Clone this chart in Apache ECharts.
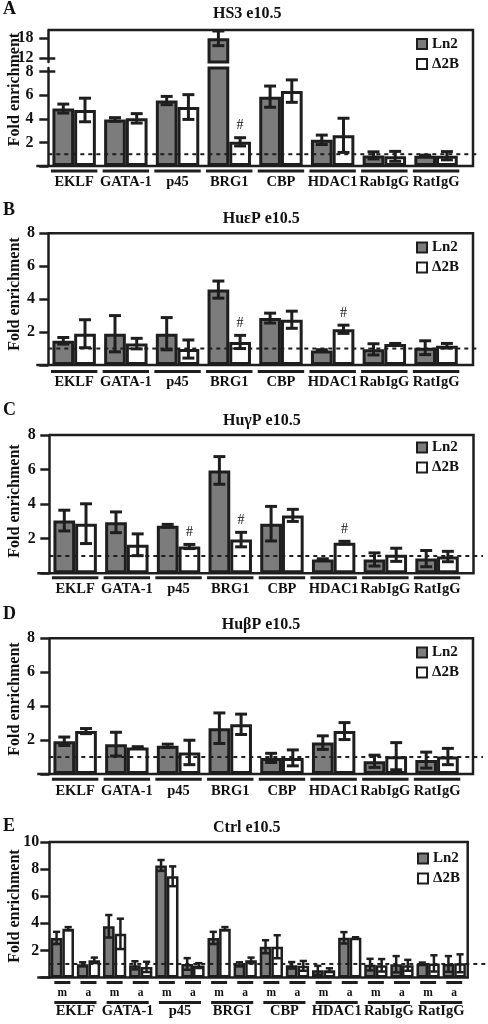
<!DOCTYPE html>
<html><head><meta charset="utf-8">
<script src="https://cdn.jsdelivr.net/npm/echarts@6/dist/echarts.min.js"></script>
<style>html,body{margin:0;padding:0;background:#fff}#c{width:488px;height:1024px}</style>
</head><body><div id="c"></div>
<script>
// ---------------- DATA ----------------
const categories = ['EKLF','GATA-1','p45','BRG1','CBP','HDAC1','RabIgG','RatIgG'];
const subLabels = ['m','a'];
const seriesNames = ['Ln2','Δ2B'];
const panelTitles = ['HS3 e10.5','HuεP e10.5','HuγP e10.5','HuβP e10.5','Ctrl e10.5'];
const panelLetters = ['A','B','C','D','E'];
const yName = 'Fold enrichment';
const yTicksAUpper = [12,18];
const yTicksALower = [2,4,6];
const yBreakLow = 8;
const yTicks8 = [2,4,6,8];
const yTicks10 = [2,4,6,8,10];
const refLevel = 1;

// A: HS3
const hs3Ln2     = [4.87, 3.95, 5.55, 18.0, 5.88, 2.22, 0.9, 0.87];
const hs3Ln2Err  = [0.38, 0.15, 0.35, 2.2, 0.9, 0.4, 0.3, 0.05];
const hs3D2B     = [4.75, 4.04, 5.0, 2.05, 6.35, 2.6, 0.82, 0.87];
const hs3D2BErr  = [1.0, 0.4, 1.05, 0.35, 0.95, 1.45, 0.42, 0.35];
const hs3Hash    = [0,0,0,1,0,0,0,0];
// B: HuεP
const epsLn2     = [1.47, 1.9, 1.9, 4.58, 2.85, 0.88, 0.95, 1.05];
const epsLn2Err  = [0.2, 1.1, 0.98, 0.52, 0.3, 0.05, 0.34, 0.42];
const epsD2B     = [1.9, 1.3, 0.97, 1.4, 2.75, 2.17, 1.27, 1.17];
const epsD2BErr  = [0.85, 0.32, 0.55, 0.4, 0.52, 0.25, 0.04, 0.14];
const epsHash    = [0,0,0,1,0,1,0,0];
// C: HuγP
const gamLn2     = [3.05, 2.95, 2.75, 5.95, 2.87, 0.8, 0.8, 0.85];
const gamLn2Err  = [0.6, 0.6, 0.08, 0.8, 1.0, 0.04, 0.38, 0.47];
const gamD2B     = [2.87, 1.65, 1.55, 1.95, 3.35, 1.77, 1.07, 0.97];
const gamD2BErr  = [1.15, 0.63, 0.12, 0.42, 0.35, 0.08, 0.38, 0.3];
const gamHash    = [0,0,1,1,0,1,0,0];
// D: HuβP
const betLn2     = [1.93, 1.76, 1.66, 2.7, 0.95, 1.85, 0.75, 0.82];
const betLn2Err  = [0.25, 0.7, 0.1, 0.9, 0.27, 0.4, 0.36, 0.47];
const betD2B     = [2.53, 1.56, 1.27, 2.93, 0.95, 2.53, 1.05, 1.03];
const betD2BErr  = [0.15, 0.05, 0.72, 0.6, 0.47, 0.5, 0.8, 0.48];
const betHash    = [0,0,0,0,0,0,0,0];
// E: Ctrl (order: EKLF m, EKLF a, GATA-1 m, GATA-1 a, ...)
const ctrlLn2    = [2.92, 0.97, 3.78, 0.9, 8.27, 1.0, 2.92, 0.97, 2.27, 0.9, 0.53, 2.93, 0.95, 0.98, 1.02, 1.0];
const ctrlLn2Err = [0.45, 0.15, 0.83, 0.3, 0.4, 0.43, 0.45, 0.15, 0.48, 0.24, 0.33, 0.42, 0.43, 0.6, 0.08, 0.58];
const ctrlD2B    = [3.6, 1.27, 3.22, 0.78, 7.47, 0.88, 3.6, 1.27, 2.27, 0.86, 0.54, 2.93, 0.9, 0.9, 1.04, 1.05];
const ctrlD2BErr = [0.12, 0.2, 1.12, 0.38, 0.73, 0.18, 0.12, 0.2, 0.85, 0.36, 0.14, 0.04, 0.46, 0.4, 0.6, 0.66];

// ---------------- STYLE ----------------
const FF = "'Liberation Serif','Times New Roman',Times,serif";
const INK = '#1e1e1e', FILL = '#7c7c7c', TXT = '#111';
const YFS = 16;

const grids = [], xAxis = [], yAxis = [], series = [], title = [], legend = [], graphic = [];

function addGrid(left, top, width, height) {
  grids.push({left, top, width, height, containLabel: false, outerBoundsMode: 'none'});
  return grids.length - 1;
}
function catAxis(gi, data, labelOpts) {
  xAxis.push({type: 'category', gridIndex: gi, data, position: 'bottom',
    axisLine: {show: false, onZero: false}, axisTick: {show: false}, splitLine: {show: false},
    axisLabel: labelOpts ? Object.assign({show: true, interval: 0, hideOverlap: false, color: TXT, fontFamily: FF, fontWeight: 'bold'}, labelOpts) : {show: false}});
  return xAxis.length - 1;
}
const yLabelStyle = {color: TXT, fontFamily: FF, fontWeight: 'bold', fontSize: YFS, lineHeight: 11};
function valAxis(gi, min, max, tickVals, labelVals, margin) {
  yAxis.push({type: 'value', gridIndex: gi, min, max, position: 'left',
    axisLine: {show: true, onZero: false, lineStyle: {color: INK, width: 2.5}},
    axisTick: {show: true, length: 9, customValues: tickVals, lineStyle: {color: INK, width: 2.5}},
    axisLabel: Object.assign({show: true, customValues: labelVals, margin, hideOverlap: false, showMinLabel: true, showMaxLabel: true}, yLabelStyle),
    splitLine: {show: false}});
  return yAxis.length - 1;
}
// break-mark axis: short tick crossing the axis line
function markAxis(gi, min, max, val, outer) {
  yAxis.push({type: 'value', gridIndex: gi, min, max, position: 'left',
    axisLine: {show: false}, splitLine: {show: false}, axisLabel: {show: false},
    axisTick: {show: true, inside: !outer, length: outer ? 9 : 7, customValues: [val], lineStyle: {color: INK, width: 2.5}}});
  return yAxis.length - 1;
}
function bars(xi, yi, ln2, d2b, gap, bw) {
  [ln2, d2b].forEach((arr, k) => {
    series.push({type: 'bar', name: seriesNames[k], xAxisIndex: xi, yAxisIndex: yi, data: arr,
      barGap: '0%', barCategoryGap: (gap * 100) + '%', z: 2, silent: true,
      itemStyle: {color: k === 0 ? FILL : '#fff', borderColor: INK, borderWidth: bw}});
  });
}
function errs(xi, yi, vals, errv, side, gap, lw, capFrac) {
  series.push({type: 'custom', name: 'err', xAxisIndex: xi, yAxisIndex: yi, z: 5, silent: true,
    data: vals.map((v, i) => [i, v, errv[i]]),
    renderItem(params, api) {
      const i = api.value(0), v = api.value(1), e = api.value(2);
      const cs = params.coordSys;
      const c = api.coord([i, v]);
      if (c[1] < cs.y - 0.5 || c[1] > cs.y + cs.height + 0.5) return null;
      const band = api.size([1, 0])[0];
      const bw = band * (1 - gap) / 2;
      const x = c[0] + side * bw / 2;
      const yT = api.coord([i, v + e])[1], yB = api.coord([i, Math.max(v - e, 0)])[1];
      const cap = bw * capFrac / 2;
      const st = {stroke: INK, lineWidth: lw};
      return {type: 'group', children: [
        {type: 'line', shape: {x1: x, y1: yT, x2: x, y2: yB}, style: st},
        {type: 'line', shape: {x1: x - cap, y1: yT, x2: x + cap, y2: yT}, style: st},
        {type: 'line', shape: {x1: x - cap, y1: yB, x2: x + cap, y2: yB}, style: st}
      ]};
    }});
}
function hashes(xi, yi, vals, errv, flags, gap) {
  const data = [];
  flags.forEach((f, i) => { if (f) data.push([i, vals[i], errv[i]]); });
  series.push({type: 'custom', name: 'hash', xAxisIndex: xi, yAxisIndex: yi, z: 6, silent: true, data,
    renderItem(params, api) {
      const i = api.value(0), v = api.value(1), e = api.value(2);
      const band = api.size([1, 0])[0];
      const bw = band * (1 - gap) / 2;
      const p = api.coord([i, v + e]);
      return {type: 'text', x: p[0] + bw / 2, y: p[1] - 12,
        style: {text: '#', fill: TXT, font: 'normal 14px ' + FF, align: 'center', verticalAlign: 'middle'}};
    }});
}
// text label placed through the axis scale (used for the break label of panel A)
function axisText(xi, yi, value, margin) {
  series.push({type: 'custom', name: 'brkLabel', xAxisIndex: xi, yAxisIndex: yi, z: 20, silent: true,
    data: [[0, value]],
    renderItem(params, api) {
      const y = api.coord([0, api.value(1)])[1];
      return {type: 'text', x: params.coordSys.x - margin, y,
        style: {text: String(api.value(1)), fill: TXT, font: 'bold ' + YFS + 'px ' + FF, align: 'right', verticalAlign: 'middle'}};
    }});
}
function underlines(xi, yi, n, halfFn, off, lw) {
  series.push({type: 'custom', name: 'uline', xAxisIndex: xi, yAxisIndex: yi, z: 6, silent: true,
    data: Array.from({length: n}, (_, i) => [i, 0]),
    renderItem(params, api) {
      const p = api.coord([api.value(0), 0]);
      const half = halfFn(api.size([1, 0])[0]);
      return {type: 'line', shape: {x1: p[0] - half, y1: p[1] + off, x2: p[0] + half, y2: p[1] + off},
        style: {stroke: INK, lineWidth: lw}};
    }});
}
function refLine(xi, yi, xEnd) {
  series.push({type: 'custom', name: 'ref', xAxisIndex: xi, yAxisIndex: yi, z: 8, silent: true,
    data: [[0, refLevel]],
    renderItem(params, api) {
      const y = api.coord([0, api.value(1)])[1];
      return {type: 'line', shape: {x1: params.coordSys.x, y1: y, x2: xEnd, y2: y},
        style: {stroke: INK, lineWidth: 2, lineDash: [4, 4]}};
    }});
}
function frame(left, top, right, bottom) {
  graphic.push({type: 'polyline', z: 100, silent: true,
    shape: {points: [[left, top], [right, top], [right, bottom], [left - 12, bottom]]},
    style: {stroke: INK, lineWidth: 2.5, fill: null}});
}
function decorations(k, letterY, titleLeft, titleTop, nameY, legLeft, legTop) {
  graphic.push({type: 'text', x: 3, y: letterY, z: 100,
    style: {text: panelLetters[k], fill: TXT, font: 'bold 18px ' + FF, align: 'left', verticalAlign: 'middle'}});
  graphic.push({type: 'text', x: 15, y: nameY, rotation: Math.PI / 2, z: 100,
    style: {text: yName, fill: TXT, font: 'bold 16px ' + FF, align: 'center', verticalAlign: 'middle'}});
  title.push({text: panelTitles[k], left: titleLeft, top: titleTop, padding: 0,
    textStyle: {fontFamily: FF, fontWeight: 'bold', fontSize: 16, color: TXT}});
  legend.push({data: seriesNames, orient: 'vertical', left: legLeft, top: legTop, padding: 0,
    itemWidth: 10, itemHeight: 10, itemGap: 5, icon: 'rect', selectedMode: false,
    itemStyle: {borderColor: INK, borderWidth: 2},
    textStyle: {fontFamily: FF, fontWeight: 'bold', fontSize: 15, color: TXT}});
}

const GAP8 = 0.16;
const grpHalf = band => band * (1 - GAP8) / 2 + 1.5;

// ---------------- Panel A (broken axis) ----------------
{
  const L = {left: 48.3, width: 413.6, top: 30, upBottom: 62, lowTop: 68, bottom: 166, right: 473, dashEnd: 480};
  const upMin = 10.9, upMax = 20.5, lowMax = 8.31;
  const gU = addGrid(L.left, L.top, L.width, L.upBottom - L.top);
  const gL = addGrid(L.left, L.lowTop, L.width, L.bottom - L.lowTop);
  const xU = catAxis(gU, categories, null);
  const xL = catAxis(gL, categories, {fontSize: 14.5, margin: 9});
  const yU = valAxis(gU, upMin, upMax, yTicksAUpper, yTicksAUpper, 14.8);
  markAxis(gU, upMin, upMax, yTicksAUpper[0], false);
  const yL = valAxis(gL, 0, lowMax, [0].concat(yTicksALower), yTicksALower, 14.8);
  markAxis(gL, 0, lowMax, yBreakLow, false);
  markAxis(gL, 0, lowMax, yBreakLow, true);
  axisText(xL, yL, yBreakLow, 14.8);
  bars(xU, yU, hs3Ln2.map(v => v > lowMax ? v : '-'), hs3D2B.map(v => v > lowMax ? v : '-'), GAP8, 3);
  bars(xL, yL, hs3Ln2, hs3D2B, GAP8, 3);
  errs(xU, yU, hs3Ln2, hs3Ln2Err, -1, GAP8, 3, 0.55);
  errs(xU, yU, hs3D2B, hs3D2BErr, 1, GAP8, 3, 0.55);
  errs(xL, yL, hs3Ln2, hs3Ln2Err, -1, GAP8, 3, 0.55);
  errs(xL, yL, hs3D2B, hs3D2BErr, 1, GAP8, 3, 0.55);
  hashes(xL, yL, hs3D2B, hs3D2BErr, hs3Hash, GAP8);
  underlines(xL, yL, categories.length, grpHalf, 5, 3);
  refLine(xL, yL, L.dashEnd);
  frame(L.left, L.top, L.right, L.bottom);
  decorations(0, 9.2, 213, 6, 89.5, 416, 36.5);
}

// ---------------- Panels B-D ----------------
const simplePanels = [
  {k: 1, ln2: epsLn2, ln2e: epsLn2Err, d2b: epsD2B, d2be: epsD2BErr, hash: epsHash,
   left: 48.3, top: 233.3, bottom: 365, right: 473, dashEnd: 480, ylm: 13.3, xlm: 10.2, ul: 6.5,
   letterY: 210.5, tL: 222.7, tT: 211, nameY: 294, lL: 416, lT: 240},
  {k: 2, ln2: gamLn2, ln2e: gamLn2Err, d2b: gamD2B, d2be: gamD2BErr, hash: gamHash,
   left: 49.3, top: 435, bottom: 573.3, right: 473.5, dashEnd: 483, ylm: 13.6, xlm: 8.8, ul: 4.5,
   letterY: 410.5, tL: 223, tT: 413, nameY: 501, lL: 416, lT: 440},
  {k: 3, ln2: betLn2, ln2e: betLn2Err, d2b: betD2B, d2be: betD2BErr, hash: betHash,
   left: 49.3, top: 638.3, bottom: 774, right: 473, dashEnd: 483, ylm: 14.3, xlm: 9.5, ul: 5.3,
   letterY: 614, tL: 221.7, tT: 617, nameY: 699, lL: 416, lT: 645}
];
simplePanels.forEach(P => {
  const g = addGrid(P.left, P.top, 413.6, P.bottom - P.top);
  const xi = catAxis(g, categories, {fontSize: 14.5, margin: P.xlm});
  const yi = valAxis(g, 0, 8, [0].concat(yTicks8), yTicks8, P.ylm);
  bars(xi, yi, P.ln2, P.d2b, GAP8, 3);
  errs(xi, yi, P.ln2, P.ln2e, -1, GAP8, 3, 0.55);
  errs(xi, yi, P.d2b, P.d2be, 1, GAP8, 3, 0.55);
  hashes(xi, yi, P.d2b, P.d2be, P.hash, GAP8);
  underlines(xi, yi, categories.length, grpHalf, P.ul, 3);
  refLine(xi, yi, P.dashEnd);
  frame(P.left, P.top, P.right, P.bottom);
  decorations(P.k, P.letterY, P.tL, P.tT, P.nameY, P.lL, P.lT);
});

// ---------------- Panel E ----------------
{
  const L = {left: 49.3, width: 418, top: 842, bottom: 977.5, right: 467.7, dashEnd: 488};
  const GAP16 = 0.11;
  const subCats = [];
  categories.forEach(c => subLabels.forEach(s => subCats.push(c + '|' + s)));
  const g = addGrid(L.left, L.top, L.width, L.bottom - L.top);
  const xs = catAxis(g, subCats, {fontSize: 11.5, margin: 10, formatter: v => v.split('|')[1]});
  const xm = catAxis(g, categories, {fontSize: 14.5, margin: 26.5});
  const yi = valAxis(g, 0, 10, [0].concat(yTicks10), yTicks10, 10);
  bars(xs, yi, ctrlLn2, ctrlD2B, GAP16, 2.5);
  errs(xs, yi, ctrlLn2, ctrlLn2Err, -1, GAP16, 2.5, 0.62);
  errs(xs, yi, ctrlD2B, ctrlD2BErr, 1, GAP16, 2.5, 0.62);
  underlines(xs, yi, subCats.length, band => 8, 5, 3);
  underlines(xm, yi, categories.length, band => band / 4 + 8, 25, 3);
  refLine(xs, yi, L.dashEnd);
  frame(L.left, L.top, L.right, L.bottom);
  decorations(4, 826, 213, 819.5, 906, 417, 851);
}

const chart = echarts.init(document.getElementById('c'), null, {renderer: 'canvas'});
chart.setOption({animation: false, textStyle: {fontFamily: FF}, grid: grids, xAxis, yAxis, series, title, legend, graphic});
</script></body></html>
